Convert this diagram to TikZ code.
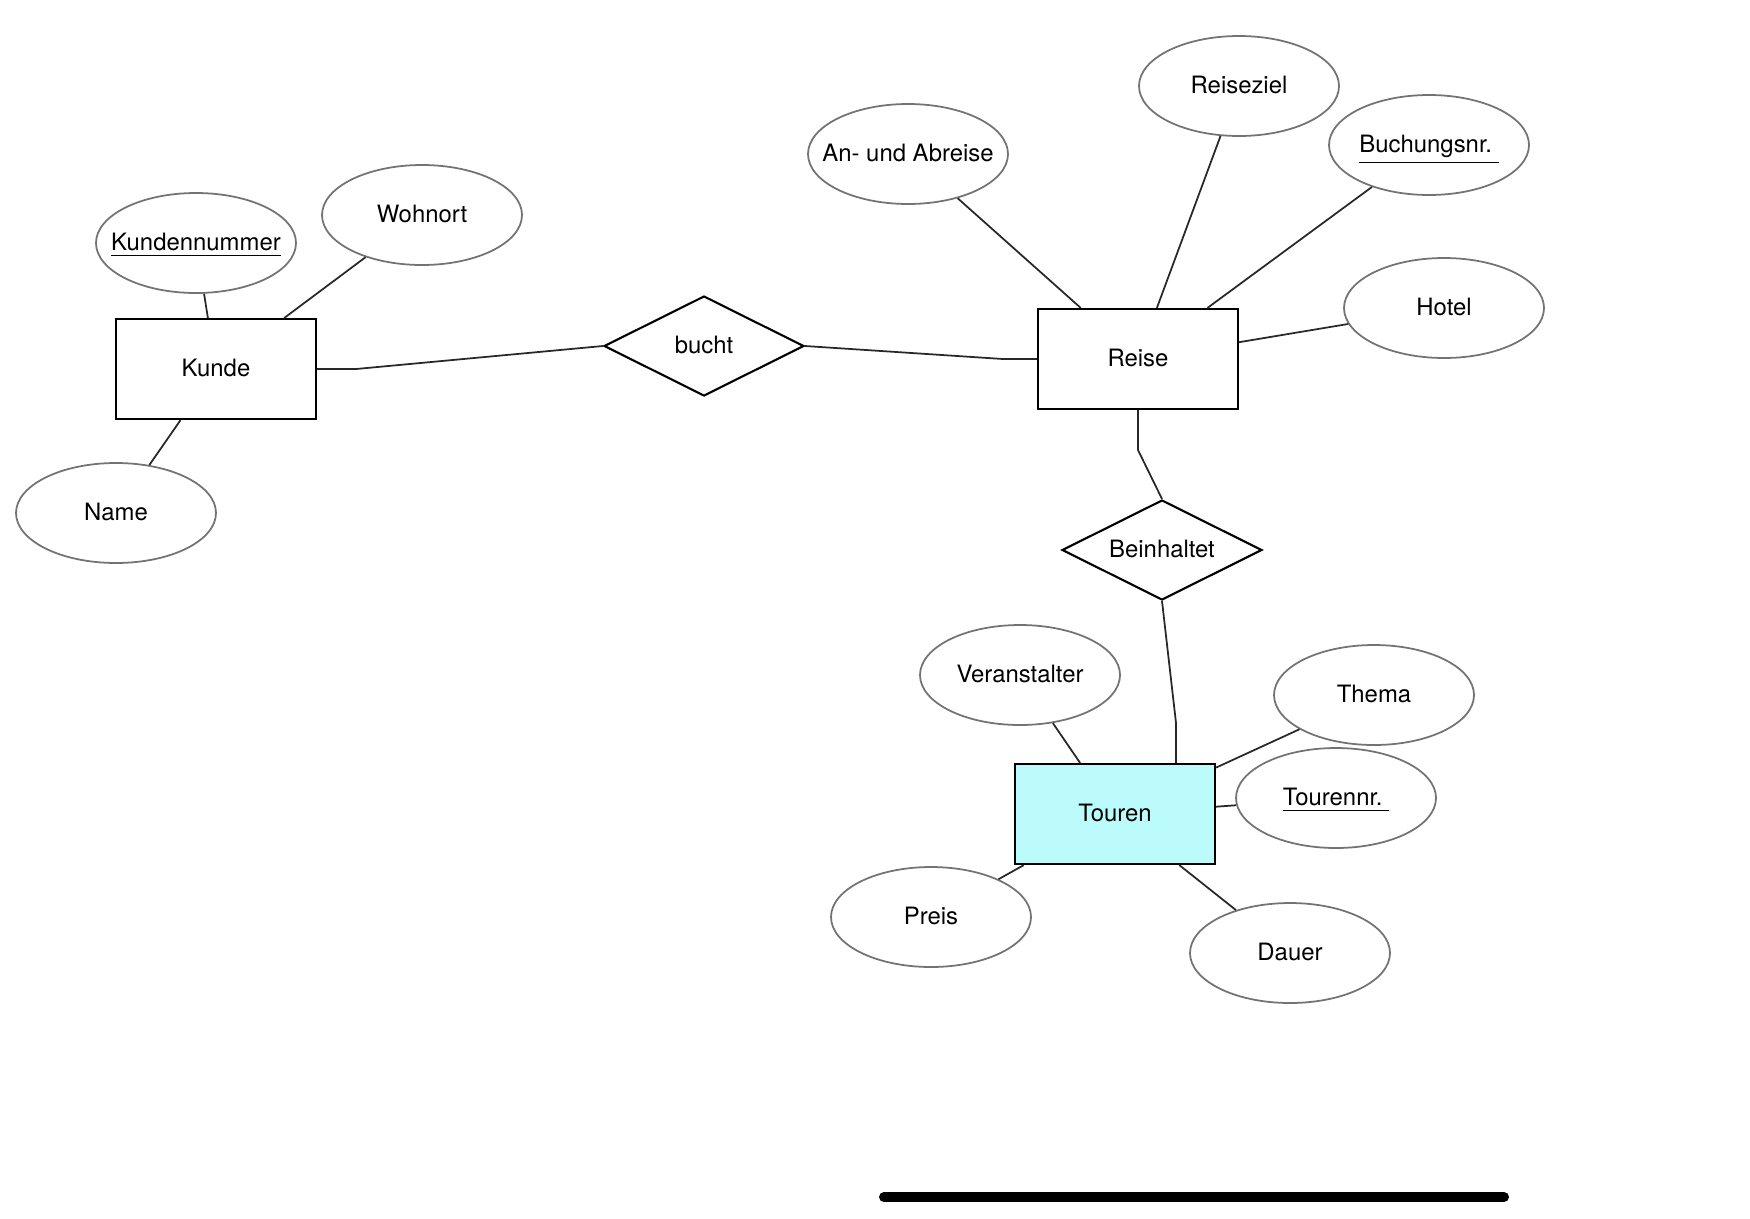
\documentclass[tikz,border=0pt]{standalone}
\usepackage{fontspec}
\setmainfont{TeX Gyre Heros}
\usetikzlibrary{shapes.geometric}
\definecolor{erline}{RGB}{40,40,40}
\definecolor{erattr}{RGB}{115,115,115}
\definecolor{ertour}{RGB}{187,251,251}

\begin{document}
\begin{tikzpicture}[every node/.style={font=\fontsize{6.8}{8}\selectfont, text height=1.4ex, text depth=0.6ex}]
  \tikzset{
    entity/.style={draw, line width=0.6pt, minimum width=2cm, minimum height=1cm, inner sep=0pt},
    attr/.style={draw=erattr, ellipse, line width=0.5pt, minimum width=2cm, minimum height=1cm, inner xsep=-4mm, inner ysep=0pt},
    relation/.style={draw, diamond, aspect=2, line width=0.6pt, minimum width=2cm, minimum height=1cm, inner sep=0pt},
    link/.style={draw=erline, line width=0.5pt}
  }
  \useasboundingbox (0,0) rectangle (17.5,-12.18);

  % Entities
  \node[entity]                  (eKunde)  at (2.16, -3.69)  {Kunde};
  \node[entity]                  (eReise)  at (11.38, -3.59) {Reise};
  \node[entity, fill=ertour]     (eTouren) at (11.15, -8.14) {Touren};

  % Relations
  \node[relation] (rBucht) at (7.04, -3.46)  {bucht};
  \node[relation] (rBein)  at (11.62, -5.50) {Beinhaltet};

  % Attributes of Kunde
  \node[attr] (aKdnr)    at (1.96, -2.43) {\underline{Kundennummer}};
  \node[attr] (aWohnort) at (4.22, -2.15) {Wohnort};
  \node[attr] (aName)    at (1.16, -5.13) {Name};

  % Attributes of Reise
  \node[attr] (aAnAb)   at (9.08, -1.54)  {An- und Abreise};
  \node[attr] (aZiel)   at (12.39, -0.86) {Reiseziel};
  \node[attr] (aBuchnr) at (14.29, -1.45) {\underline{Buchungsnr.\ }};
  \node[attr] (aHotel)  at (14.44, -3.08) {Hotel};

  % Attributes of Touren
  \node[attr] (aVeran)   at (10.20, -6.75) {Veranstalter};
  \node[attr] (aThema)   at (13.74, -6.95) {Thema};
  \node[attr] (aTournr)  at (13.36, -7.98) {\underline{Tourennr.\ }};
  \node[attr] (aPreis)   at (9.31, -9.17)  {Preis};
  \node[attr] (aDauer)   at (12.90, -9.53) {Dauer};

  % Relationship lines
  \draw[link] (eKunde.east) -- ++(0.39,0) -- (rBucht.west);
  \draw[link] (eReise.west) -- ++(-0.34,0) -- (rBucht.east);
  \draw[link] (eReise.south) -- ++(0,-0.40) -- (rBein.north);
  \draw[link] ([xshift=6.1mm]eTouren.north) -- ++(0,0.40) -- (rBein.south);

  % Attribute lines
  \foreach \a/\e in {aKdnr/eKunde, aWohnort/eKunde, aName/eKunde,
                     aAnAb/eReise, aZiel/eReise, aBuchnr/eReise, aHotel/eReise,
                     aVeran/eTouren, aThema/eTouren, aTournr/eTouren, aPreis/eTouren, aDauer/eTouren}
    \draw[link] (\a) -- (\e);

  % bar at the bottom edge
  \draw[line width=0.1cm, line cap=round] (8.84, -11.97) -- (15.04, -11.97);
\end{tikzpicture}
\end{document}
